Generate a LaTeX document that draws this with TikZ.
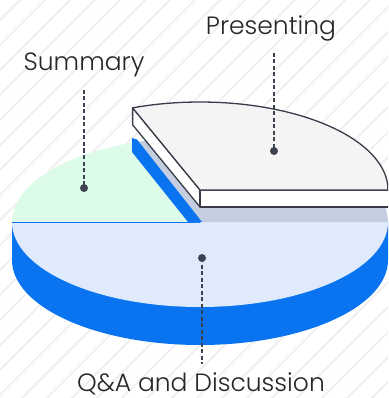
\documentclass[tikz,border=0pt]{standalone}
\usepackage{fontspec}
\IfFontExistsTF{Poppins Light}{\setmainfont{Poppins Light}}{\setmainfont{Poppins}}
\definecolor{sideblue}{RGB}{10,116,240}
\definecolor{topblue}{RGB}{223,234,253}
\definecolor{sumgreen}{RGB}{220,252,233}
\definecolor{shadowgray}{RGB}{196,206,224}
\definecolor{slicetop}{RGB}{244,244,244}
\definecolor{outline}{RGB}{55,60,72}
\definecolor{leadercol}{RGB}{61,66,80}
\definecolor{stripe}{RGB}{240,240,240}
\tikzset{
  lbl/.style={font=\fontsize{25}{28}\selectfont, text=black!85, inner sep=0pt, anchor=base},
  leader/.style={draw=leadercol, line width=2.4pt, dash pattern=on 4pt off 2.5pt},
  dotmark/.style={fill=leadercol},
  slicefill/.style={draw=outline, line width=1.3pt, line join=round},
}
\begin{document}
\begin{tikzpicture}[x=1pt,y=-1pt]
\useasboundingbox (0,0) rectangle (388,398);
\clip (0,0) rectangle (388,398);
% background stripes
\foreach \c in {0,25,...,825} {
  \draw[stripe, line width=1.8pt] (\c,-5) -- ++(-410,410);
}
% cylinder side (blue)
\fill[sideblue] (12,222) -- (12,260) arc[start angle=180, end angle=0, x radius=188, y radius=85] -- (388,222) -- cycle;
% Q&A top face
\fill[topblue] (12,222) arc[start angle=180, end angle=0, x radius=188, y radius=85] -- cycle;
\draw[sideblue, line width=0.9pt] (12,222) -- (200,222);
% shadow under lifted slice
\fill[shadowgray] (200,222) -- (388,222) arc[start angle=0, end angle=-111, x radius=188, y radius=85] -- cycle;
% Summary slice
\fill[sumgreen] (200,222) -- (132.6,142.6) arc[start angle=-111, end angle=-180, x radius=188, y radius=85] -- cycle;
% blue wall strip
\fill[sideblue] (132,138) -- (137,139.5) -- (202,222) -- (188,222) -- (132,152) -- cycle;
% Presenting slice (lifted)
\filldraw[slicefill, fill=white] (132.6,107.8) -- (200,190) -- (200,207) -- (132.6,124.8) -- cycle;
\filldraw[slicefill, fill=white] (200,190) -- (392,190) -- (392,207) -- (200,207) -- cycle;
\filldraw[slicefill, fill=slicetop] (200,190) -- (388,190) arc[start angle=0, end angle=-111, x radius=188, y radius=88] -- cycle;
% labels
\node[lbl] (summary) at (84,71) {Summary};
\node[lbl] (presenting) at (271,35) {Presenting};
\node[lbl] (qa) at (201,391) {Q\&A and Discussion};
% leaders
\coordinate (sumtop) at (84,90);
\coordinate (sumdot) at (84,188);
\coordinate (prestop) at (274,53);
\coordinate (presdot) at (274,151);
\coordinate (qadot) at (202,258);
\coordinate (qabot) at (202,364);
\draw[leader] (sumtop) -- (sumdot);
\draw[leader] (prestop) -- (presdot);
\draw[leader] (qadot) -- (qabot);
\fill[dotmark] (sumdot) circle (4);
\fill[dotmark] (presdot) circle (4);
\fill[dotmark] (qadot) circle (4);
\end{tikzpicture}
\end{document}
